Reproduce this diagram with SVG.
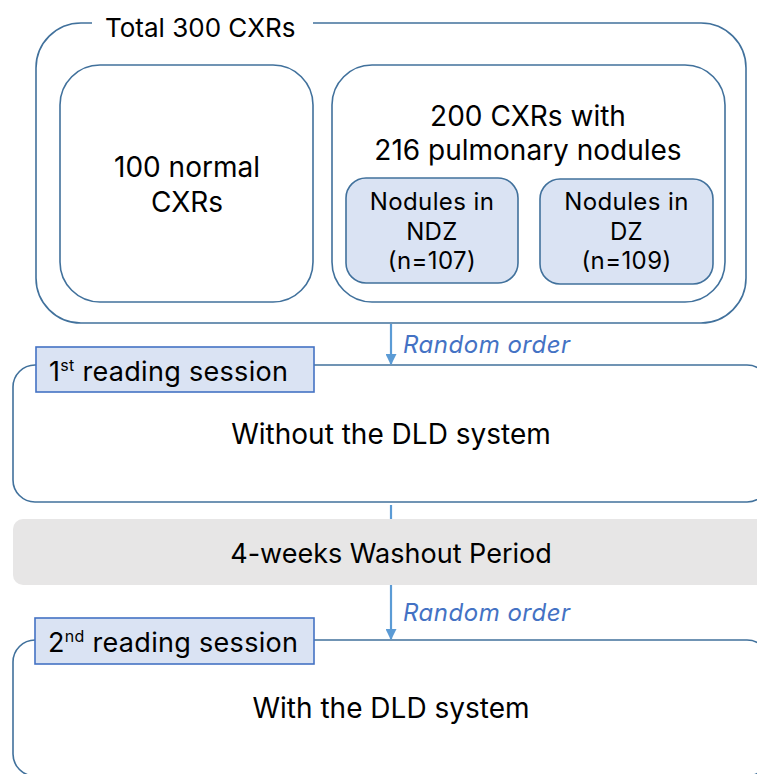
<svg xmlns="http://www.w3.org/2000/svg" width="757" height="774" viewBox="0 0 757 774">
<style>
  .frame { fill: #ffffff; stroke: #41719c; stroke-width: 1.6; }
  .sub { fill: #dae3f3; stroke: #41719c; stroke-width: 1.6; }
  .label { fill: #dae3f3; stroke: #4472c4; stroke-width: 1.6; }
  .gray { fill: #e7e6e6; stroke: none; }
  .t { font-family: Inter, "Noto Sans", sans-serif; fill: #000000; }
  .big { font-size: 28px; }
  .mid { font-size: 24px; letter-spacing: 0.4px; }
  .lab { font-size: 27px; letter-spacing: 0.3px; }
  .ro { font-family: Inter, "Noto Sans", sans-serif; font-style: italic; font-size: 24px; letter-spacing: 0.5px; fill: #4472c4; }
  .conn { stroke: #5b9bd5; stroke-width: 2.2; fill: none; }
</style>
<defs>
  <marker id="arrow" viewBox="0 0 10 10" refX="9" refY="5" markerWidth="5" markerHeight="5" orient="auto" markerUnits="strokeWidth">
    <path d="M0,0 L10,5 L0,10 z" fill="#5b9bd5"/>
  </marker>
</defs>

<g id="total">
  <path class="frame" fill="none" d="M313,23 L701,23 A45,45 0 0 1 746,68 L746,278 A45,45 0 0 1 701,323 L81,323 A45,45 0 0 1 36,278 L36,68 A45,45 0 0 1 81,23 L92,23"/>
  <text class="t" font-size="26" x="105" y="37">Total 300 CXRs</text>
</g>

<g id="normal">
  <rect class="frame" x="60" y="65" width="253" height="237" rx="40" ry="40"/>
  <text class="t big" x="187" y="177" text-anchor="middle">100 normal</text>
  <text class="t big" x="187" y="212" text-anchor="middle">CXRs</text>
</g>

<g id="nodules">
  <rect class="frame" x="332" y="65" width="393" height="237" rx="40" ry="40"/>
  <text class="t big" x="528" y="126" text-anchor="middle">200 CXRs with</text>
  <text class="t big" x="528" y="160" text-anchor="middle">216 pulmonary nodules</text>
</g>

<g id="ndz">
  <rect class="sub" x="346" y="178" width="172" height="105" rx="20" ry="20"/>
  <text class="t mid" x="432" y="210" text-anchor="middle">Nodules in</text>
  <text class="t mid" x="432" y="240" text-anchor="middle">NDZ</text>
  <text class="t mid" x="432" y="269" text-anchor="middle">(n=107)</text>
</g>

<g id="dz">
  <rect class="sub" x="540" y="179" width="173" height="105" rx="20" ry="20"/>
  <text class="t mid" x="626.5" y="210" text-anchor="middle">Nodules in</text>
  <text class="t mid" x="626.5" y="240" text-anchor="middle">DZ</text>
  <text class="t mid" x="626.5" y="269" text-anchor="middle">(n=109)</text>
</g>

<g id="session1">
  <rect class="frame" x="13" y="365" width="756" height="137" rx="22" ry="22"/>
  <rect class="label" x="36" y="347" width="278" height="45"/>
  <text class="t lab" x="49" y="381">1<tspan font-size="16" dy="-10">st</tspan><tspan dy="10"> reading session</tspan></text>
  <text class="t big" x="391" y="444" text-anchor="middle">Without the DLD system</text>
</g>

<g id="washout">
  <rect class="gray" x="13" y="519" width="760" height="66" rx="10" ry="10"/>
  <text class="t" font-size="27" x="391" y="563" text-anchor="middle">4-weeks Washout Period</text>
</g>

<g id="session2">
  <rect class="frame" x="13" y="640" width="756" height="136" rx="22" ry="22"/>
  <rect class="label" x="35" y="618" width="279" height="46"/>
  <text class="t lab" x="48" y="652">2<tspan font-size="16" dy="-10">nd</tspan><tspan dy="10"> reading session</tspan></text>
  <text class="t big" x="391" y="718" text-anchor="middle">With the DLD system</text>
</g>

<g id="connectors">
  <line class="conn" x1="391" y1="324" x2="391" y2="364" marker-end="url(#arrow)"/>
  <text class="ro" x="403" y="353">Random order</text>
  <line class="conn" x1="391" y1="505" x2="391" y2="519"/>
  <line class="conn" x1="391" y1="585" x2="391" y2="639" marker-end="url(#arrow)"/>
  <text class="ro" x="403" y="621">Random order</text>
</g>
</svg>
